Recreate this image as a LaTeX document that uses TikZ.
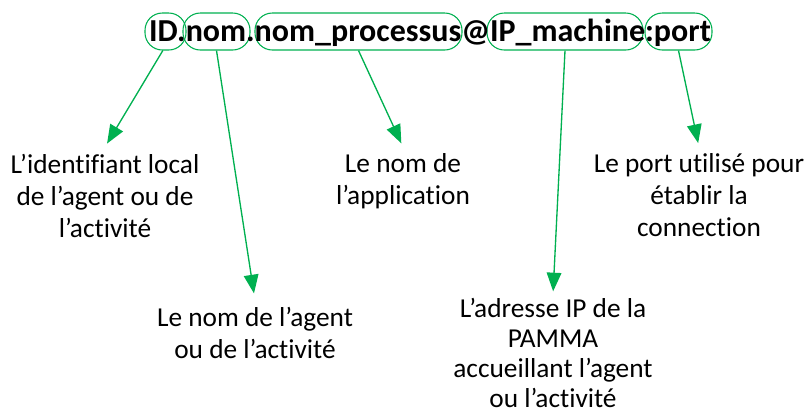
\documentclass[tikz,border=0pt]{standalone}
\usepackage{fontspec}
\setmainfont{Carlito}[Ligatures={TeX,NoCommon}]
\usepackage{xcolor}
\usepackage{tikz}
\usetikzlibrary{arrows.meta, positioning}
\definecolor{pgreen}{HTML}{00B050}

\begin{document}
\begin{tikzpicture}[
    x=0.75pt, y=-0.75pt,
    seg/.style={draw=pgreen, line width=0.8pt, rounded corners=13pt,
                minimum height=27.75pt, inner sep=0pt},
    lbl/.style={align=center, inner sep=5pt,
                font=\fontsize{20.5}{24}\selectfont},
    ptr/.style={draw=pgreen, line width=1pt,
                -{Triangle[length=14pt, width=11pt]}},
  ]
  \useasboundingbox (0,0) rectangle (806,419);
  % the boxes round each part
  \node[seg, minimum width=30.75pt]  (id)   at (165.5,31.5) {};
  \node[seg, minimum width=50.25pt]  (nom)  at (216.5,31.5) {};
  \node[seg, minimum width=155.25pt] (proc) at (358.5,31.5) {};
  \node[seg, minimum width=117pt]    (ip)   at (565,31.5)   {};
  \node[seg, minimum width=50.25pt]  (port) at (678.5,31.5) {};
  % the address
  \node[font=\fontsize{24}{28}\selectfont\bfseries, inner sep=0pt] (addr)
    at (430,33) {ID.nom.nom\_processus@IP\_machine:port};
  % labels
  \node[lbl, anchor=north] (lid)   at (105,147)  {L’identifiant local\\de l’agent ou de\\l’activité};
  \node[lbl, anchor=north] (lnom)  at (255,300)  {Le nom de l’agent\\ou de l’activité};
  \node[lbl, anchor=north] (lproc) at (403,147)  {Le nom de\\l’application};
  \node[lbl, anchor=north, inner sep=3pt, font=\fontsize{20.5}{22.5}\selectfont] (lip) at (553,294)
    {L’adresse IP de la\\PAMMA\\accueillant l’agent\\ou l’activité};
  \node[lbl, anchor=north] (lport) at (699,147)  {Le port utilisé pour\\établir la\\connection};
  % pointers
  \draw[ptr, shorten >=3pt] ([xshift=-2pt]id.south) -- (lid.north);
  \draw[ptr, shorten >=5pt] (nom.south) -- (lnom.north);
  \draw[ptr, shorten >=3pt] (proc.south) -- (lproc.north);
  \draw[ptr, shorten >=2pt] (ip.south) -- (lip.north);
  \draw[ptr, shorten >=3pt] (port.south) -- (lport.north);
\end{tikzpicture}
\end{document}
